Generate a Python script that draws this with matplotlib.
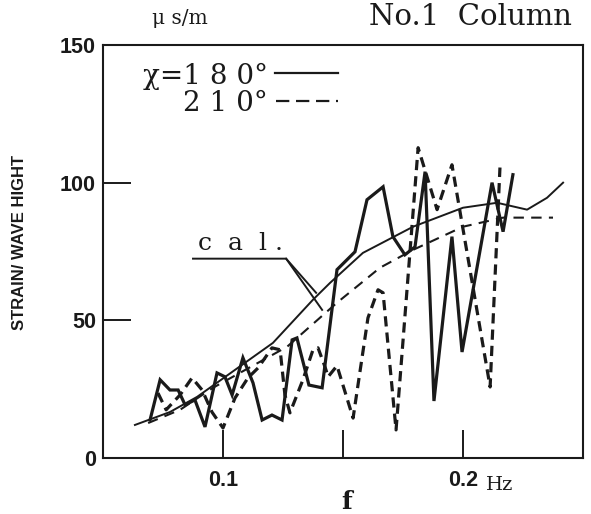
"""No.1 Column strain / wave height response"""
import matplotlib
matplotlib.use('Agg')
import matplotlib.pyplot as plt

plt.rcParams.update({
    'font.family': ['DejaVu Serif'],
    'axes.linewidth': 1.5,
    'axes.edgecolor': '#1a1a1a',
})
INK = '#1a1a1a'

# measured, chi = 180 deg (solid)
f_180 = [0.0696, 0.0738, 0.0779, 0.0813, 0.0842, 0.0883, 0.0925, 0.0975, 0.1008,
         0.1038, 0.1083, 0.1125, 0.1163, 0.1204, 0.1246, 0.1288, 0.1308, 0.1358,
         0.1413, 0.1475, 0.1550, 0.1600, 0.1667, 0.1708, 0.1758, 0.1800, 0.1842,
         0.1879, 0.1954, 0.1996, 0.2121, 0.2167, 0.2208]
v_180 = [13.8, 28.4, 24.7, 24.7, 19.3, 21.1, 11.3, 30.9, 29.5,
         22.9, 36.4, 27.3, 13.8, 15.6, 13.8, 42.9, 43.6, 26.5,
         25.5, 68.4, 74.9, 93.8, 98.5, 80.4, 73.8, 76.7, 104.0,
         20.7, 80.4, 38.5, 100.0, 82.2, 102.9]

# measured, chi = 210 deg (dashed)
f_210 = [0.0729, 0.0763, 0.0821, 0.0871, 0.0913, 0.0954, 0.1000, 0.1050, 0.1104,
         0.1146, 0.1204, 0.1238, 0.1258, 0.1279, 0.1333, 0.1375, 0.1396, 0.1425,
         0.1438, 0.1475, 0.1542, 0.1604, 0.1646, 0.1667, 0.1721, 0.1813, 0.1892,
         0.1954, 0.2113, 0.2154]
v_210 = [23.6, 17.5, 22.9, 29.1, 24.7, 16.7, 10.9, 21.8, 29.1,
         32.7, 40.0, 39.3, 22.9, 16.4, 28.4, 39.3, 40.0, 33.1,
         29.5, 33.5, 14.5, 50.9, 61.1, 60.0, 10.2, 112.7, 90.2,
         106.5, 25.8, 105.5]

# calculated curves
f_cal180 = [0.0633, 0.0779, 0.0892, 0.1208, 0.1375, 0.1446, 0.1583, 0.1792,
            0.2000, 0.2142, 0.2267, 0.2350, 0.2417]
v_cal180 = [12.0, 16.7, 22.2, 41.8, 57.5, 63.6, 74.5, 84.0,
            90.9, 92.7, 90.2, 94.5, 100.0]
f_cal210 = [0.0688, 0.0821, 0.0958, 0.1267, 0.1475, 0.1654, 0.1792, 0.2000,
            0.2167, 0.2375]
v_cal210 = [12.7, 17.5, 25.5, 40.4, 56.4, 69.1, 75.6, 84.0, 87.3, 87.3]

xticks = [0.1, 0.15, 0.2]
xticklabels = ['0.1', '', '0.2']
yticks = [0, 50, 100, 150]

W, H = 591, 514
def fx(px): return px / W
def fy(py): return 1 - py / H

fig = plt.figure(figsize=(W / 100, H / 100), dpi=100)
ax = fig.add_axes([fx(103), fy(458), (583 - 103) / W, (458 - 45) / H])

ax.plot(f_cal180, v_cal180, color=INK, lw=1.4)
ax.plot(f_cal210, v_cal210, color=INK, lw=1.5, dashes=(5, 3.5))
ax.plot(f_180, v_180, color=INK, lw=2.3, solid_joinstyle='miter')
ax.plot(f_210, v_210, color=INK, lw=2.3, dashes=(3.2, 1.9))

ax.set_xlim(0.05, 0.25)
ax.set_ylim(0, 150)
ax.set_xticks(xticks)
ax.set_xticklabels(xticklabels)
ax.set_yticks(yticks)
ax.tick_params(direction='in', length=20, width=1.4, color=INK)
ax.tick_params(axis='x', pad=9)
ax.tick_params(axis='y', pad=5)
for lab in ax.get_xticklabels() + ax.get_yticklabels():
    lab.set_family('Liberation Sans')
    lab.set_fontweight('bold')
    lab.set_fontsize(15.5)
    lab.set_color(INK)

# legend drawn by hand, like the original
ax.text(0.344, 0.925, 'χ=1 8 0°', transform=ax.transAxes, ha='right', va='center',
        fontsize=20, color=INK)
ax.text(0.344, 0.858, '2 1 0°', transform=ax.transAxes, ha='right', va='center',
        fontsize=20, color=INK)
ax.plot([0.358, 0.490], [0.932, 0.932], transform=ax.transAxes, color=INK, lw=1.6)
ax.plot([0.360, 0.490], [0.864, 0.864], transform=ax.transAxes, color=INK, lw=1.6,
        dashes=(6, 3))

# cal. label with leader lines
ax.text(0.1075, 78.0, 'c  a  l .', ha='center', va='center', fontsize=18, color=INK)
ax.plot([0.0875, 0.1263, 0.1388], [72.4, 72.4, 60.0], color=INK, lw=1.4)
ax.plot([0.1263, 0.1413], [72.4, 53.8], color=INK, lw=1.4)

# outer labels
fig.text(fx(470), fy(17), 'No.1  Column', ha='center', va='center', fontsize=21, color=INK)
fig.text(fx(180), fy(19), 'μ s/m', ha='center', va='center', fontsize=14.5, color=INK)
fig.text(fx(500), fy(485), 'Hz', ha='center', va='center', fontsize=14, color=INK)
fig.text(fx(347), fy(502), 'f', ha='center', va='center', fontsize=18,
         fontweight='bold', color=INK)
fig.text(fx(20), fy(242), 'STRAIN/ WAVE HIGHT', rotation=90, ha='center', va='center',
         fontsize=12, fontweight='bold', family='Liberation Sans', color=INK)

fig.savefig('out.png', dpi=100)
